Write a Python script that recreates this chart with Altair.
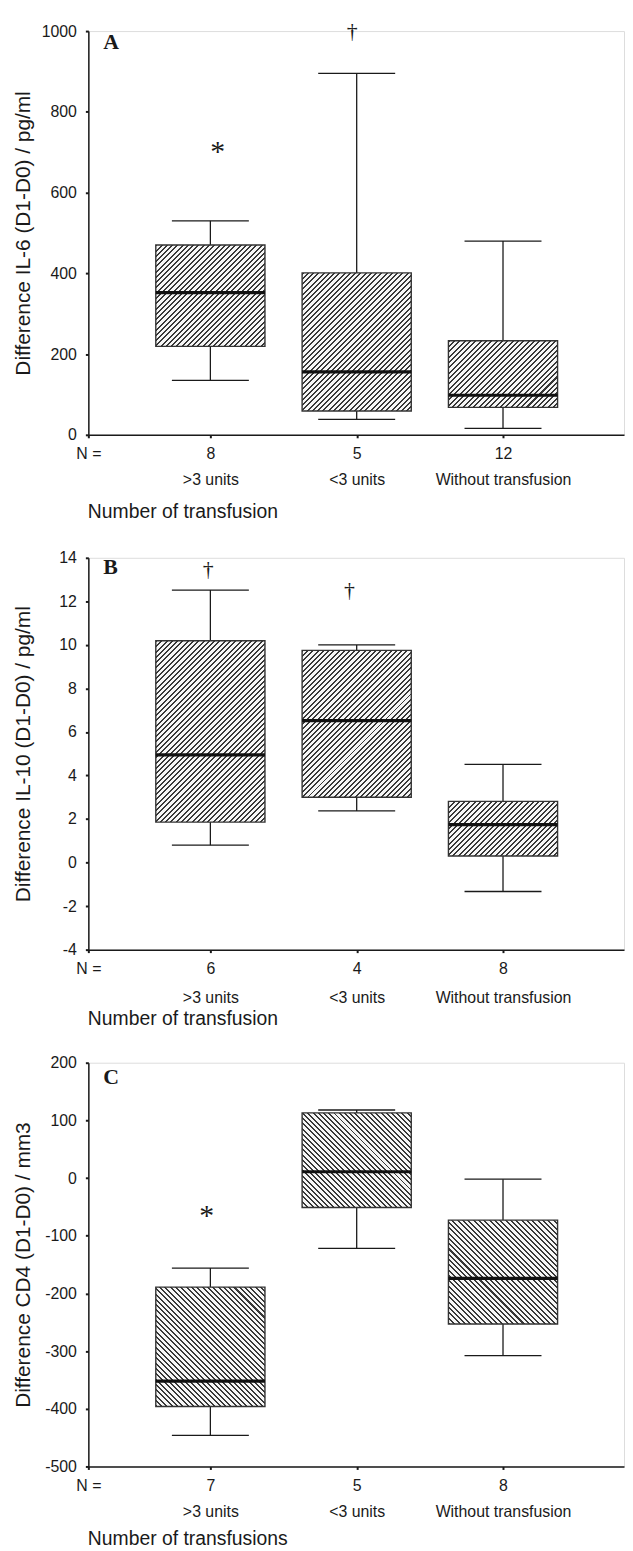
import json
import math
import altair as alt
import pandas as pd

# ---------------- data ----------------
groups = [">3 units", "<3 units", "Without transfusion"]
positions = [1, 2, 3]

# Panel A : IL-6 (pg/ml)
a_n = ["8", "5", "12"]
a_low = [135, 38, 16]
a_q1 = [219, 59, 68]
a_median = [352, 156, 98]
a_q3 = [470, 401, 233]
a_high = [530, 895, 480]
a_ticks = [0, 200, 400, 600, 800, 1000]
a_mark_pos = [1.05, 1.97]
a_mark_val = [715, 1000]
a_mark_sym = ["*", "†"]

# Panel B : IL-10 (pg/ml)
b_n = ["6", "4", "8"]
b_low = [0.8, 2.37, -1.33]
b_q1 = [1.86, 3.0, 0.3]
b_median = [4.95, 6.52, 1.74]
b_q3 = [10.19, 9.75, 2.81]
b_high = [12.52, 10.0, 4.51]
b_ticks = [-4, -2, 0, 2, 4, 6, 8, 10, 12, 14]
b_mark_pos = [0.985, 1.95]
b_mark_val = [13.5, 12.5]
b_mark_sym = ["†", "†"]

# Panel C : CD4 (/mm3)
c_n = ["7", "5", "8"]
c_low = [-446, -122, -308]
c_q1 = [-396, -51, -253]
c_median = [-352, 11, -174]
c_q3 = [-189, 113, -73]
c_high = [-156, 118, -2]
c_ticks = [-500, -400, -300, -200, -100, 0, 100, 200]
c_mark_pos = [0.975]
c_mark_val = [-55]
c_mark_sym = ["*"]

# ---------------- style ----------------
FONT = "Liberation Sans"
SERIF = "Liberation Serif"
INK = "#1a1a1a"
PLOT_W = 540
XMIN, XMAX = 0.166, 3.827
BOX_HALF = 0.373
CAP_HALF = 0.263
PX_PER_X = PLOT_W / (XMAX - XMIN)


def hatch(w, h, direction, period=3.75, frac=0.38, dark="#383838", light="#f6f6f6"):
    length = (w + h) / math.sqrt(2)
    n = max(1, int(round(length / period)))
    stops = []
    for k in range(n):
        a = k / n
        b = (k + frac) / n
        c = (k + 1) / n
        stops += [
            {"offset": a, "color": dark},
            {"offset": b, "color": dark},
            {"offset": b, "color": light},
            {"offset": c, "color": light},
        ]
    s = (1 / h + 1 / w) / (1 / h ** 2 + 1 / w ** 2)
    if direction == "/":
        return {"gradient": "linear", "x1": 0, "y1": 0, "x2": s / h, "y2": s / w, "stops": stops}
    return {"gradient": "linear", "x1": 0, "y1": 1, "x2": s / h, "y2": 1 - s / w, "stops": stops}


def panel(n, low, q1, med, q3, high, ticks, mark_pos, mark_val, mark_sym,
          ytitle, xtitle, height, direction, letter, letter_y, line_h, xtitle_y):
    ymin, ymax = ticks[0], ticks[-1]
    df = pd.DataFrame({"i": [0, 1, 2], "pos": positions, "low": low, "q1": q1,
                       "med": med, "q3": q3, "high": high})
    labels = json.dumps([[n[i], groups[i]] for i in range(3)])
    xscale = alt.Scale(domain=[XMIN, XMAX], nice=False, zero=False)
    yscale = alt.Scale(domain=[ymin, ymax], nice=False, zero=False)
    xaxis = alt.Axis(
        values=[XMIN, 1, 2, 3],
        labelExpr=f"datum.value < 0.5 ? 'N =' : {labels}[round(datum.value) - 1]",
        grid=False, domainColor=INK, domainWidth=1.5, tickColor=INK, tickWidth=2,
        tickSize=3, labelFont=FONT, labelFontSize=16, labelColor=INK,
        labelLineHeight=line_h, labelPadding=8, labelFlush=False, labelOverlap=False,
        title=xtitle, titleFont=FONT, titleFontSize=19.5, titleFontWeight="normal",
        titleColor=INK, titleAnchor="start", titleAlign="left",
        titleBaseline="alphabetic", titleX=-1, titleY=xtitle_y)
    yaxis = alt.Axis(
        values=ticks, labelExpr="'' + datum.value", grid=False, domainColor=INK,
        domainWidth=1.5, tickColor=INK, tickWidth=2, tickSize=3, labelFont=FONT,
        labelFontSize=16, labelColor=INK, labelPadding=9, title=ytitle,
        titleFont=FONT, titleFontSize=21, titleFontWeight="normal", titleColor=INK,
        titleBaseline="alphabetic", titleX=-59)

    def X(f):
        return alt.X(f"{f}:Q", scale=xscale, axis=xaxis)

    def Y(f):
        return alt.Y(f"{f}:Q", scale=yscale, axis=yaxis)

    base = alt.Chart(df).transform_calculate(
        x0=f"datum.pos - {BOX_HALF}", x1=f"datum.pos + {BOX_HALF}",
        c0=f"datum.pos - {CAP_HALF}", c1=f"datum.pos + {CAP_HALF}")

    rule = dict(color=INK, strokeWidth=1.3)
    layers = [
        base.mark_rule(**rule).encode(x=X("pos"), y=Y("q3"), y2="high"),
        base.mark_rule(**rule).encode(x=X("pos"), y=Y("low"), y2="q1"),
        base.mark_rule(**rule).encode(x=X("c0"), x2="c1", y=Y("high")),
        base.mark_rule(**rule).encode(x=X("c0"), x2="c1", y=Y("low")),
    ]
    box_w = 2 * BOX_HALF * PX_PER_X
    for i in range(3):
        box_h = (q3[i] - q1[i]) / (ymax - ymin) * height
        layers.append(
            base.transform_filter(f"datum.i == {i}")
            .mark_rect(fill=hatch(box_w, box_h, direction), stroke="#333333", strokeWidth=1.4)
            .encode(x=X("x0"), x2="x1", y=Y("q1"), y2="q3"))
    layers.append(base.mark_rule(color="#111111", strokeWidth=3.2)
                  .encode(x=X("x0"), x2="x1", y=Y("med")))

    ann = pd.DataFrame({"apos": mark_pos, "aval": mark_val, "sym": mark_sym})
    annc = alt.Chart(ann)
    if "*" in mark_sym:
        layers.append(annc.transform_filter("datum.sym == '*'")
                      .mark_text(font=SERIF, fontSize=30, color=INK, dy=6)
                      .encode(x=X("apos"), y=Y("aval"), text="sym:N"))
    if "†" in mark_sym:
        layers.append(annc.transform_filter("datum.sym == '†'")
                      .mark_text(font=SERIF, fontSize=22, color=INK)
                      .encode(x=X("apos"), y=Y("aval"), text="sym:N"))
    layers.append(alt.Chart(pd.DataFrame({"t": [letter]}))
                  .mark_text(font=SERIF, fontSize=22, fontWeight="bold", color=INK,
                             align="left", baseline="top")
                  .encode(x=alt.value(15), y=alt.value(letter_y), text="t:N"))
    return alt.layer(*layers).properties(width=PLOT_W, height=height)


pa = panel(a_n, a_low, a_q1, a_median, a_q3, a_high, a_ticks, a_mark_pos, a_mark_val,
           a_mark_sym, "Difference IL-6 (D1-D0) / pg/ml", "Number of transfusion",
           407, "/", "A", 1, 26, 83)
pb = panel(b_n, b_low, b_q1, b_median, b_q3, b_high, b_ticks, b_mark_pos, b_mark_val,
           b_mark_sym, "Difference IL-10 (D1-D0)  / pg/ml", "Number of transfusion",
           395, "/", "B", -1, 29, 75)
pc = panel(c_n, c_low, c_q1, c_median, c_q3, c_high, c_ticks, c_mark_pos, c_mark_val,
           c_mark_sym, "Difference CD4 (D1-D0) / mm3", "Number of transfusions",
           407, "\\", "C", 4, 26, 79)

chart = alt.vconcat(pa, alt.vconcat(pb, pc, spacing=26), spacing=28).properties(
    padding={"left": 4, "top": 5, "right": 0, "bottom": 0}
).configure_view(stroke=None).configure(background="white")

chart.save("out.html", embed_options={"renderer": "svg", "actions": False})
